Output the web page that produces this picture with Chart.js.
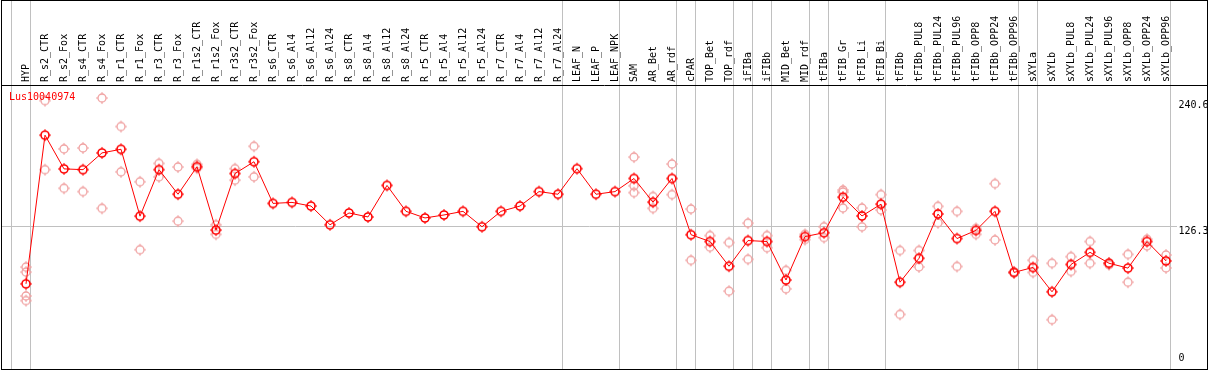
<!DOCTYPE html>
<html>
<head>
<meta charset="utf-8">
<script src="https://cdn.jsdelivr.net/npm/chart.js@4.4.1/dist/chart.umd.min.js"></script>
<style>
  body { margin: 0; background: #fff; }
  canvas { display: block; }
</style>
</head>
<body>
<canvas id="geneChart" width="1209" height="370"></canvas>
<script>
const geneName = "Lus10040974";

const samples = ["HYP", "R_s2_CTR", "R_s2_Fox", "R_s4_CTR", "R_s4_Fox", "R_r1_CTR", "R_r1_Fox",
  "R_r3_CTR", "R_r3_Fox", "R_r1s2_CTR", "R_r1s2_Fox", "R_r3s2_CTR", "R_r3s2_Fox",
  "R_s6_CTR", "R_s6_Al4", "R_s6_Al12", "R_s6_Al24", "R_s8_CTR", "R_s8_Al4", "R_s8_Al12", "R_s8_Al24",
  "R_r5_CTR", "R_r5_Al4", "R_r5_Al12", "R_r5_Al24", "R_r7_CTR", "R_r7_Al4", "R_r7_Al12", "R_r7_Al24",
  "LEAF_N", "LEAF_P", "LEAF_NPK", "SAM", "AR_Bet", "AR_rdf", "cPAR", "TOP_Bet", "TOP_rdf",
  "iFIBa", "iFIBb", "MID_Bet", "MID_rdf", "tFIBa", "tFIB_Gr", "tFIB_Li", "tFIB_Bi",
  "tFIBb", "tFIBb_PUL8", "tFIBb_PUL24", "tFIBb_PUL96", "tFIBb_OPP8", "tFIBb_OPP24", "tFIBb_OPP96",
  "sXYLa", "sXYLb", "sXYLb_PUL8", "sXYLb_PUL24", "sXYLb_PUL96", "sXYLb_OPP8", "sXYLb_OPP24", "sXYLb_OPP96"];

// mean expression (red line)
const meanValues = [73.6, 208.5, 177.9, 177.2, 192.4, 195.7, 135.0, 177.2, 154.9, 179.9, 122.4, 173.7, 184.4,
  146.6, 147.5, 144.2, 127.2, 137.9, 134.3, 162.9, 139.4,
  133.4, 136.1, 139.4, 125.4, 139.4, 144.2, 157.3, 154.9,
  178.1, 154.9, 157.3, 169.2, 147.7, 169.2, 118.2, 112.0, 89.6,
  112.9, 112.0, 77.1, 116.5, 120.0, 152.2, 135.2, 145.9,
  75.1, 96.8, 137.0, 114.7, 122.1, 139.4, 84.0,
  88.5, 66.4, 91.2, 102.2, 92.3, 87.9, 112.0, 94.4];

// replicates (pink circles)
const rep1 = [88.8, 239.8, 196.0, 196.9, 242.2, 216.3, 166.2, 182.9, 179.6, 182.0, 127.2, 178.1, 198.4,
  null, null, null, null, null, null, null, null, null, null, null, null, null, null, null, null, null, null, null,
  188.6, 152.8, 182.3, 141.5, 117.4, 111.1, 128.7, 117.4, 85.8, 118.5, 125.4, 158.7, 142.4, 154.6,
  103.9, 103.9, 143.9, 139.4, 123.9, 164.5, 84.5, 95.0, 92.3, 98.3, 112.0, 92.6, 100.4, 114.1, 99.8];
const rep2 = [62.6, 177.2, 160.3, 157.3, 142.1, 175.2, 104.6, 170.7, 130.5, 178.5, 118.5, 167.7, 170.7,
  null, null, null, null, null, null, null, null, null, null, null, null, null, null, null, null, null, null, null,
  156.4, 142.1, 154.6, 95.0, 106.9, 67.0, 95.9, 106.4, 69.1, 113.8, 115.6, 142.4, 125.4, 140.6,
  45.9, 89.0, 129.0, 89.4, 118.5, 113.5, 83.5, 84.0, 41.1, 84.9, 92.3, 91.0, 75.1, 108.1, 88.1];
const rep3 = {HYP: 84.3, SAM: 162.6, tFIB_Gr: 156.9};
const rep4 = {HYP: 58.4};

const yTicks = [0, 126.3, 240.6];
const refLine = 126.3;
// last sample of each group (-1 = before first)
const groupEnds = [-1, 0, 28, 31, 34, 35, 37, 38, 39, 41, 42, 45, 52, 53, 60];

function marker(color, lw) {
  const c = document.createElement('canvas');
  c.width = 14; c.height = 14;
  const g = c.getContext('2d');
  g.strokeStyle = color;
  g.lineWidth = lw;
  g.beginPath();
  g.arc(7, 7, 4, 0, Math.PI * 2);
  g.stroke();
  g.lineWidth = 1;
  g.beginPath();
  g.moveTo(7, 1); g.lineTo(7, 3);
  g.moveTo(7, 11); g.lineTo(7, 13);
  g.moveTo(1, 7); g.lineTo(3, 7);
  g.moveTo(11, 7); g.lineTo(13, 7);
  g.stroke();
  return c;
}
const redMark = marker('#ff0000', 1.6);
const pinkMark = marker('#f0a0a0', 1.3);

const FONT = '10px "DejaVu Sans Mono", monospace';

const decor = {
  id: 'decor',
  beforeDatasetsDraw(chart) {
    const ctx = chart.ctx, x = chart.scales.x, y = chart.scales.y;
    ctx.save();
    ctx.strokeStyle = '#c0c0c0';
    ctx.lineWidth = 1;
    ctx.beginPath();
    groupEnds.forEach(i => {
      const px = Math.floor(x.getPixelForValue(i) + 4.5) + 0.5;
      ctx.moveTo(px, 0); ctx.lineTo(px, 369);
    });
    const py = Math.round(y.getPixelForValue(refLine)) + 0.5;
    ctx.moveTo(2, py); ctx.lineTo(1177, py);
    ctx.stroke();
    ctx.restore();
  },
  afterDraw(chart) {
    const ctx = chart.ctx, y = chart.scales.y, area = chart.chartArea;
    ctx.save();
    ctx.strokeStyle = '#000';
    ctx.lineWidth = 1;
    ctx.strokeRect(1.5, 0.5, 1206, 369);
    ctx.beginPath();
    ctx.moveTo(1, 85.5); ctx.lineTo(1208, 85.5);
    ctx.stroke();
    ctx.font = FONT;
    ctx.fillStyle = '#000';
    ctx.textAlign = 'left';
    yTicks.forEach(v => {
      const py = y.getPixelForValue(v);
      if (py + 12 > area.bottom) {
        ctx.textBaseline = 'bottom';
        ctx.fillText(String(v), 1178.5, area.bottom - 2);
      } else {
        ctx.textBaseline = 'top';
        ctx.fillText(String(v), 1178.5, py + 1);
      }
    });
    ctx.fillStyle = '#ff0000';
    ctx.textBaseline = 'middle';
    ctx.fillText(geneName, 9, 97);
    ctx.restore();
  }
};

const extra = (obj) => samples.map(s => (s in obj ? obj[s] : null));

new Chart("geneChart", {
  type: "line",
  data: {
    labels: samples,
    datasets: [{
      data: meanValues,
      borderColor: "#ff0000",
      borderWidth: 1,
      pointStyle: redMark,
      pointRadius: 4,
      tension: 0
    }, {
      data: rep1, showLine: false, pointStyle: pinkMark, pointRadius: 4
    }, {
      data: rep2, showLine: false, pointStyle: pinkMark, pointRadius: 4
    }, {
      data: extra(rep3), showLine: false, pointStyle: pinkMark, pointRadius: 4
    }, {
      data: extra(rep4), showLine: false, pointStyle: pinkMark, pointRadius: 4
    }]
  },
  options: {
    responsive: false,
    animation: false,
    events: [],
    layout: { padding: { left: 16.5, right: 0, top: 0, bottom: 1 } },
    plugins: { legend: { display: false }, tooltip: { enabled: false } },
    scales: {
      x: {
        position: 'top',
        offset: true,
        grid: { display: false, drawTicks: false },
        border: { display: false },
        ticks: {
          autoSkip: false, minRotation: 90, maxRotation: 90, padding: 3, labelOffset: 12,
          color: '#000', font: { family: '"DejaVu Sans Mono", monospace', size: 10 }
        },
        afterFit(s) { s.height = 85; }
      },
      y: {
        position: 'right',
        min: 0,
        max: 254,
        grid: { display: false, drawTicks: false },
        border: { display: false },
        ticks: { display: false },
        afterBuildTicks(s) { s.ticks = yTicks.map(v => ({ value: v })); },
        afterFit(s) { s.width = 33.5; }
      }
    }
  },
  plugins: [decor]
});
</script>
</body>
</html>
